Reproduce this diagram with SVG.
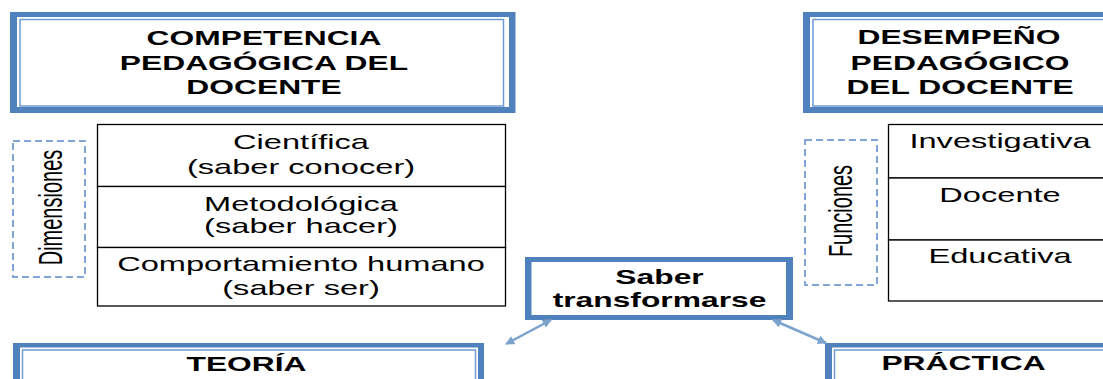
<svg xmlns="http://www.w3.org/2000/svg" width="1103" height="379" viewBox="0 0 1103 379">
<style>
.t{font-family:"Liberation Sans",Arial,sans-serif;font-size:20px;fill:#000;text-anchor:middle}
.b{font-family:"Liberation Sans",Arial,sans-serif;font-size:19.5px;font-weight:bold;fill:#000;text-anchor:middle}
.band{fill:#4f81bd;fill-rule:evenodd}
.inner{fill:none;stroke:#6f9bd0;stroke-width:1.5}
.dash{fill:none;stroke:#7fa6d6;stroke-width:2;stroke-dasharray:7 4}
.cell{fill:#fff;stroke:#000;stroke-width:1.3}
.conn{fill:none;stroke:#7ba3cc;stroke-width:2.5}
</style>
<defs>
<marker id="ah" viewBox="0 0 10 10" refX="9" refY="5" markerWidth="4" markerHeight="3.6" orient="auto-start-reverse" markerUnits="strokeWidth">
<path d="M0,0 L10,5 L0,10 z" fill="#7ba3cc"/>
</marker>
</defs>
<rect width="1103" height="379" fill="#fff"/>

<g id="competencia">
<path class="band" d="M10,12 H515.5 V113 H10 Z M17,17 V107 H509 V17 Z"/>
<rect class="inner" x="20" y="19.5" width="483.5" height="86.5"/>
<text class="b" transform="translate(264,44.5) scale(1.63,1)">COMPETENCIA</text>
<text class="b" transform="translate(264,70) scale(1.63,1)">PEDAGÓGICA DEL</text>
<text class="b" transform="translate(264,94) scale(1.63,1)">DOCENTE</text>
</g>

<g id="desempeno">
<path class="band" d="M803,12 H1120 V113 H803 Z M810,17 V107 H1115 V17 Z"/>
<rect class="inner" x="813" y="19.5" width="300" height="86.5"/>
<text class="b" transform="translate(959,44) scale(1.63,1)">DESEMPEÑO</text>
<text class="b" transform="translate(960,70) scale(1.63,1)">PEDAGÓGICO</text>
<text class="b" transform="translate(960,93.5) scale(1.63,1)">DEL DOCENTE</text>
</g>

<g id="dimensiones">
<rect class="dash" x="13" y="141" width="72" height="136"/>
<text class="t" transform="translate(62,207.5) scale(1.63,1) rotate(-90)">Dimensiones</text>
</g>

<g id="tabla-dimensiones">
<rect class="cell" x="97.5" y="124.5" width="408" height="62"/>
<rect class="cell" x="97.5" y="186.5" width="408" height="61"/>
<rect class="cell" x="97.5" y="247.5" width="408" height="58.5"/>
<text class="t" transform="translate(301,149) scale(1.63,1)">Científica</text>
<text class="t" transform="translate(301,174) scale(1.63,1)">(saber conocer)</text>
<text class="t" transform="translate(301,211) scale(1.63,1)">Metodológica</text>
<text class="t" transform="translate(301,233) scale(1.63,1)">(saber hacer)</text>
<text class="t" transform="translate(301,271) scale(1.63,1)">Comportamiento humano</text>
<text class="t" transform="translate(301,295) scale(1.63,1)">(saber ser)</text>
</g>

<g id="funciones">
<rect class="dash" x="805" y="140" width="72" height="145"/>
<text class="t" transform="translate(852,211) scale(1.63,1) rotate(-90)">Funciones</text>
</g>

<g id="tabla-funciones">
<rect class="cell" x="888.5" y="124.5" width="230" height="53.5"/>
<rect class="cell" x="888.5" y="178" width="230" height="62"/>
<rect class="cell" x="888.5" y="240" width="230" height="61"/>
<text class="t" transform="translate(1000,148) scale(1.63,1)">Investigativa</text>
<text class="t" transform="translate(1000,201.5) scale(1.63,1)">Docente</text>
<text class="t" transform="translate(1000,263) scale(1.63,1)">Educativa</text>
</g>

<g id="saber-transformarse">
<path class="band" d="M525,257 H793 V320 H525 Z M531.5,262 V315 H786 V262 Z"/>
<text class="b" transform="translate(659.5,283.5) scale(1.63,1)">Saber</text>
<text class="b" transform="translate(659.5,307) scale(1.63,1)">transformarse</text>
</g>

<g id="teoria">
<path class="band" d="M13,343 H484 V390 H13 Z M20,347.5 V390 H478 V347.5 Z"/>
<rect class="inner" x="22.5" y="350" width="453" height="40"/>
<text class="b" transform="translate(246.5,371) scale(1.63,1)">TEORÍA</text>
</g>

<g id="practica">
<path class="band" d="M825,343 H1120 V390 H825 Z M832,347.5 V390 H1120 V347.5 Z"/>
<rect class="inner" x="834.5" y="350" width="290" height="40"/>
<text class="b" transform="translate(963.5,370) scale(1.63,1)">PRÁCTICA</text>
</g>

<g id="connectors">
<line class="conn" x1="551" y1="320" x2="506" y2="344" marker-start="url(#ah)" marker-end="url(#ah)"/>
<line class="conn" x1="773" y1="320" x2="826" y2="343" marker-start="url(#ah)" marker-end="url(#ah)"/>
</g>
</svg>
